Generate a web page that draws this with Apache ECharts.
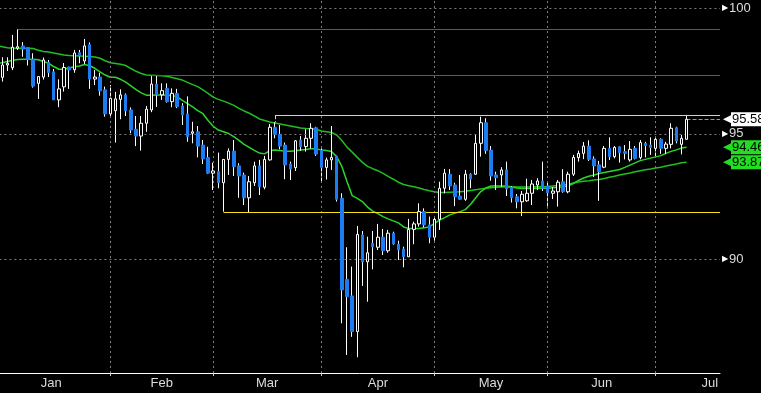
<!DOCTYPE html>
<html><head><meta charset="utf-8">
<script src="https://cdn.jsdelivr.net/npm/echarts@6/dist/echarts.min.js"></script>
<style>html,body{margin:0;padding:0;background:#000}#c{width:761px;height:393px}</style>
</head><body><div id="c"></div>
<script>
// ---------- data ----------
const firstDate = '2025-01-01';
const slotCount = 142;            // weekday slots on the axis (Jan 1 .. Jul 17)
const monthNames = ['Jan','Feb','Mar','Apr','May','Jun','Jul'];
const firstCandleDate = '2025-01-03';
// [open, close, low, high]
const candles = [
[97.25,97.74,97.08,98.05],[97.74,97.81,97.50,98.05],[97.63,98.45,97.54,98.94],[98.41,98.47,98.34,99.17],
[98.50,98.37,98.07,98.65],[98.44,97.96,97.72,98.45],[97.97,96.90,96.84,98.21],[97.01,97.28,96.39,97.30],
[97.26,97.94,97.16,98.04],[97.84,97.44,97.26,97.94],[97.47,96.35,96.35,97.58],[96.35,96.79,96.06,97.17],
[96.87,97.64,96.68,97.82],[97.66,97.54,96.79,97.67],[97.55,98.22,97.43,98.34],[98.23,98.10,97.81,98.34],
[97.90,98.50,97.78,98.78],[98.55,97.18,96.79,98.64],[97.18,97.26,96.94,97.54],[97.26,96.71,96.52,97.43],
[96.75,95.79,95.68,96.88],[95.79,96.41,95.67,96.94],[95.92,96.39,94.65,96.67],[96.37,96.55,95.58,96.77],
[96.55,95.92,95.71,96.61],[95.95,95.15,95.02,96.05],[95.18,94.91,94.51,95.71],[94.91,95.42,94.33,95.71],
[95.42,95.98,95.08,96.11],[95.95,96.98,95.86,97.30],[96.98,96.55,96.07,97.30],[96.55,96.72,96.35,97.01],
[96.81,96.28,96.24,97.01],[96.28,96.61,96.06,96.81],[96.61,96.08,96.02,96.79],[96.11,95.75,95.35,96.22],
[95.79,94.88,94.68,96.49],[95.02,95.08,94.62,95.48],[95.08,94.51,94.06,95.31],[94.55,94.00,93.80,94.75],
[94.05,93.43,93.40,94.48],[93.43,93.52,92.76,93.85],[93.49,93.05,92.83,94.25],[93.05,93.98,91.90,93.98],
[93.98,94.31,93.36,94.42],[94.31,93.69,93.32,94.75],[93.72,93.32,92.45,93.83],[93.36,92.45,92.16,93.45],
[92.45,93.09,91.87,93.32],[93.05,93.72,92.92,93.89],[93.72,92.89,92.56,93.96],[92.87,93.98,92.79,94.12],
[93.96,95.26,93.93,95.39],[95.26,94.98,94.82,95.46],[94.98,94.51,94.38,95.35],[94.55,93.76,93.19,94.65],
[93.80,93.60,93.16,93.89],[93.65,94.72,93.52,94.75],[94.75,94.49,94.33,94.91],[94.49,94.82,94.29,95.18],
[94.82,95.22,94.42,95.42],[95.24,94.19,94.12,95.28],[94.33,93.65,93.09,94.42],[93.66,93.96,93.18,94.05],
[93.96,94.06,93.56,95.31],[94.09,92.39,92.30,94.12],[92.43,88.78,87.45,92.63],[89.20,88.51,86.19,90.48],
[88.54,87.12,86.91,89.71],[87.12,90.99,86.10,91.33],[90.97,89.90,88.94,91.13],[89.90,90.26,88.31,90.90],
[90.64,90.50,89.60,91.13],[90.48,90.88,90.37,91.41],[90.88,90.34,90.17,91.21],[90.34,91.04,90.26,91.17],
[91.04,90.61,90.57,91.10],[90.60,90.37,89.97,90.74],[90.41,90.10,89.68,90.50],[90.10,91.19,90.10,91.61],
[91.19,91.41,90.60,91.50],[91.41,91.90,91.30,92.23],[91.90,91.37,91.27,92.03],[91.37,90.88,90.64,91.70],
[90.88,91.59,90.74,91.72],[91.59,92.83,91.17,93.09],[92.83,93.43,92.63,93.60],[93.39,92.92,92.76,93.59],
[92.96,92.49,92.12,93.05],[92.52,92.39,92.36,93.36],[92.39,93.39,92.33,93.56],[93.39,93.20,92.83,93.43],
[93.39,94.62,93.36,94.95],[94.62,95.44,94.09,95.68],[95.44,94.33,94.20,95.62],[94.35,93.32,93.13,94.51],
[93.36,93.25,92.76,93.49],[93.36,93.56,92.89,93.67],[93.56,92.80,92.52,93.89],[92.87,92.45,92.26,92.92],
[92.49,92.29,92.03,92.60],[92.29,92.59,91.72,92.72],[92.33,92.63,92.29,93.21],[92.63,93.00,92.16,93.16],
[92.96,93.12,92.76,93.23],[93.12,92.83,92.72,93.89],[92.92,92.65,92.03,93.09],[92.63,92.72,92.40,92.87],
[92.69,93.07,92.10,93.16],[93.09,92.69,92.65,93.59],[92.69,93.39,92.63,93.49],[93.39,94.06,93.32,94.16],
[94.05,94.22,93.89,94.33],[94.22,94.51,93.99,94.67],[94.51,93.98,93.92,94.74],[94.00,93.72,93.28,94.10],
[93.76,93.49,92.33,93.92],[93.67,94.42,93.63,94.51],[94.42,94.09,93.96,94.86],[94.09,94.46,94.02,94.51],
[94.48,94.25,93.85,94.51],[94.29,94.22,93.98,94.55],[93.96,94.38,93.89,94.71],[94.42,94.02,93.98,94.51],
[94.05,94.65,93.98,94.75],[94.62,94.53,94.06,94.68],[94.55,94.45,94.16,94.86],[94.42,94.78,94.06,94.86],
[94.78,94.42,94.20,94.82],[94.42,94.59,94.20,94.68],[94.58,95.22,94.42,95.42],[95.24,94.71,94.62,95.28],
[94.58,94.82,94.18,94.95],[94.78,95.58,94.78,95.75]
];
// moving averages, one value per slot from Jan 1
const fastMA = [
97.78,97.80,97.83,97.88,97.92,97.96,97.97,97.97,97.97,97.95,
97.88,97.81,97.68,97.57,97.57,97.62,97.67,97.70,97.76,97.71,
97.61,97.47,97.34,97.25,97.25,97.17,97.06,96.91,96.76,96.63,
96.54,96.54,96.55,96.55,96.54,96.53,96.47,96.33,96.20,96.07,
95.92,95.80,95.53,95.30,95.15,95.08,95.01,94.89,94.74,94.58,
94.46,94.34,94.23,94.20,94.33,94.35,94.33,94.30,94.30,94.32,
94.35,94.37,94.40,94.41,94.35,94.33,94.29,94.09,93.70,93.10,
92.54,92.43,92.30,92.08,91.92,91.82,91.70,91.61,91.53,91.45,
91.29,91.23,91.23,91.23,91.26,91.29,91.43,91.56,91.66,91.77,
91.84,91.90,91.98,92.18,92.44,92.70,92.84,92.92,92.92,92.92,
92.92,92.88,92.84,92.82,92.82,92.82,92.83,92.83,92.83,92.85,
92.87,92.89,92.93,93.02,93.14,93.24,93.31,93.36,93.42,93.46,
93.50,93.54,93.58,93.66,93.75,93.84,93.93,93.98,94.03,94.08,
94.13,94.22,94.30,94.36,94.43,94.46];
const slowMA = [
98.52,98.50,98.47,98.43,98.41,98.41,98.41,98.41,98.40,98.33,
98.28,98.26,98.22,98.18,98.14,98.12,98.11,98.10,98.09,98.08,
98.06,98.01,97.91,97.83,97.80,97.77,97.72,97.60,97.49,97.40,
97.34,97.33,97.32,97.31,97.29,97.24,97.19,97.14,97.05,96.96,
96.88,96.75,96.61,96.46,96.37,96.30,96.22,96.13,96.01,95.91,
95.82,95.71,95.59,95.53,95.47,95.43,95.39,95.35,95.31,95.27,
95.23,95.21,95.20,95.18,95.11,95.08,95.05,94.95,94.73,94.47,
94.27,94.06,93.86,93.70,93.61,93.53,93.42,93.30,93.19,93.07,
92.98,92.93,92.89,92.84,92.78,92.73,92.69,92.66,92.66,92.67,
92.68,92.69,92.71,92.74,92.77,92.80,92.83,92.85,92.87,92.88,
92.88,92.88,92.88,92.88,92.88,92.88,92.89,92.89,92.90,92.92,
92.94,92.96,92.99,93.04,93.08,93.11,93.13,93.16,93.18,93.22,
93.27,93.31,93.36,93.40,93.44,93.49,93.53,93.57,93.60,93.64,
93.67,93.72,93.76,93.80,93.85,93.87];
// drawn support / resistance levels
const levelValues = [99.18, 97.34, 95.74, 91.88];
const levelStarts = ['2025-01-08', '2025-02-13', '2025-03-19', '2025-03-05'];
const levelColors = ['#e0202a', '#e0202a', '#f4e31c', '#f4e31c'];
const yMajorTicks = [90, 95, 100];
const yMinorTicks = [87.5, 92.5, 97.5];
const yMin = 85.47, yMax = 100.33;

// ---------- build ----------
const categories = [];
(function () {
  const d = new Date(firstDate + 'T00:00:00Z');
  while (categories.length < slotCount) {
    const w = d.getUTCDay();
    if (w !== 0 && w !== 6) categories.push(d.toISOString().slice(0, 10));
    d.setUTCDate(d.getUTCDate() + 1);
  }
})();
const candleStart = categories.indexOf(firstCandleDate);
const wickData = categories.map((c, i) => {
  const k = i - candleStart;
  return (k >= 0 && k < candles.length) ? candles[k] : ['-', '-', '-', '-'];
});
const bodyData = wickData.map(v => v[0] === '-' ? v : [v[0], v[1], Math.min(v[0], v[1]), Math.max(v[0], v[1])]);
const lastIdx = candleStart + candles.length - 1;
const lastClose = candles[candles.length - 1][1];
const lastFast = fastMA[fastMA.length - 1];
const lastSlow = slowMA[slowMA.length - 1];

const monthStarts = [];
categories.forEach((d, i) => { if (i === 0 || d.slice(5, 7) !== categories[i - 1].slice(5, 7)) monthStarts.push(i); });
const monthMids = monthStarts.map((s, k) => Math.min((s + (k + 1 < monthStarts.length ? monthStarts[k + 1] : s + 23)) / 2, slotCount - 2.5));

const FONT = '"Liberation Sans", Arial, sans-serif';
const LABEL_COLOR = '#dcdcdc';
const xEnd = slotCount - 0.5;

const levelLines = levelValues.map((v, k) => {
  const s = categories.indexOf(levelStarts[k]);
  const st = { color: levelColors[k], width: 1, type: 'solid' };
  return [{ coord: [s, v], lineStyle: st }, { coord: [xEnd, v], lineStyle: st }];
});
// bracket from upper yellow level down to the candle high
const bracketIdx = categories.indexOf(levelStarts[2]);
const bracketHigh = wickData[bracketIdx][3];
levelLines.push([{ coord: [bracketIdx, levelValues[2]], lineStyle: { color: levelColors[2], width: 1 } },
                 { coord: [bracketIdx, bracketHigh], lineStyle: { color: levelColors[2], width: 1 } }]);
// last price line
levelLines.push([{ coord: [lastIdx, lastClose], lineStyle: { color: '#e8900a', width: 1 } },
                 { coord: [xEnd, lastClose], lineStyle: { color: '#e8900a', width: 1 } }]);

const gridLines = yMajorTicks.map(v => ({ yAxis: v })).concat(monthStarts.slice(1).map(i => ({ xAxis: i })));

const option = {
  backgroundColor: '#000',
  animation: false,
  grid: { left: -10.6, right: 41, top: 0, bottom: 20, outerBoundsMode: 'none', containLabel: false },
  xAxis: [
    { type: 'category', data: categories, boundaryGap: true,
      axisLine: { show: false }, axisTick: { show: false }, axisLabel: { show: false }, splitLine: { show: false } },
    { type: 'value', min: -0.5, max: xEnd, position: 'bottom',
      axisLine: { show: true, lineStyle: { color: '#ffffff', width: 1 } },
      axisTick: { show: true, customValues: monthStarts.slice(1), length: 3, lineStyle: { color: '#cfcfcf' } },
      axisLabel: { customValues: monthMids, margin: 4, color: LABEL_COLOR, fontSize: 13, fontFamily: FONT,
        formatter: v => { const k = monthMids.findIndex(m => Math.abs(m - v) < 1e-6); return k >= 0 ? monthNames[k] : ''; } },
      splitLine: { show: false } }
  ],
  yAxis: [
    { type: 'value', position: 'right', offset: 2, min: yMin, max: yMax, scale: true,
      axisLine: { show: true, lineStyle: { color: '#ffffff', width: 1 } },
      axisTick: { show: true, customValues: yMinorTicks, length: 4, inside: false, lineStyle: { color: '#ffffff' } },
      axisLabel: { customValues: yMajorTicks, margin: 0, fontFamily: FONT,
        formatter: v => '{a|\u25B6}{b|' + v + '}',
        rich: { a: { color: '#ffffff', fontSize: 8, padding: [0, 1, 0, 0] }, b: { color: LABEL_COLOR, fontSize: 13, fontFamily: FONT } } },
      splitLine: { show: false } },
    { type: 'value', position: 'right', offset: 2, min: yMin, max: yMax, scale: true,
      axisLine: { show: false }, axisTick: { show: false }, splitLine: { show: false },
      axisLabel: { customValues: [lastClose, lastFast, lastSlow], margin: 1, fontFamily: FONT,
        formatter: v => {
          const t = v.toFixed(2);
          return Math.abs(v - lastClose) < 1e-6 ? '{wa|\u25C0}{w|' + t + '}' : '{ga|\u25C0}{g|' + t + '}';
        },
        rich: {
          wa: { color: '#ffffff', fontSize: 11, padding: [0, 0, 0, 0] },
          w: { backgroundColor: '#ffffff', color: '#000000', fontSize: 13, fontFamily: FONT, padding: [1, 3, 0, 1], lineHeight: 13 },
          ga: { color: '#22dd22', fontSize: 11, padding: [0, 0, 0, 0] },
          g: { backgroundColor: '#22dd22', color: '#000000', fontSize: 13, fontFamily: FONT, padding: [1, 3, 0, 1], lineHeight: 13 }
        } } }
  ],
  series: [
    { type: 'line', xAxisIndex: 1, yAxisIndex: 0, data: [], silent: true, z: 1,
      markLine: { silent: true, symbol: ['none', 'none'], label: { show: false },
        lineStyle: { color: '#7c7c7c', width: 1, type: [2, 3] }, data: gridLines } },
    { type: 'line', xAxisIndex: 1, yAxisIndex: 0, data: [], silent: true, z: 2,
      markLine: { silent: true, symbol: ['none', 'none'], label: { show: false }, data: levelLines } },
    { name: 'slow', type: 'line', xAxisIndex: 0, yAxisIndex: 0, data: slowMA, symbol: 'none', z: 3,
      lineStyle: { color: '#1fbf1f', width: 1.5 } },
    { name: 'fast', type: 'line', xAxisIndex: 0, yAxisIndex: 0, data: fastMA, symbol: 'none', z: 3,
      lineStyle: { color: '#2ad42a', width: 1.5 } },
    { name: 'wick', type: 'candlestick', xAxisIndex: 0, yAxisIndex: 0, data: wickData, barWidth: 1, z: 4,
      itemStyle: { color: '#ffffff', color0: '#ffffff', borderColor: '#ffffff', borderColor0: '#ffffff', borderWidth: 1 } },
    { name: 'body', type: 'candlestick', xAxisIndex: 0, yAxisIndex: 0, data: bodyData, barWidth: 3, z: 5,
      itemStyle: { color: '#000000', color0: '#1d7cf2', borderColor: '#ffffff', borderColor0: '#1d7cf2', borderWidth: 1 } }
  ]
};
const chart = echarts.init(document.getElementById('c'));
chart.setOption(option);
</script></body></html>
